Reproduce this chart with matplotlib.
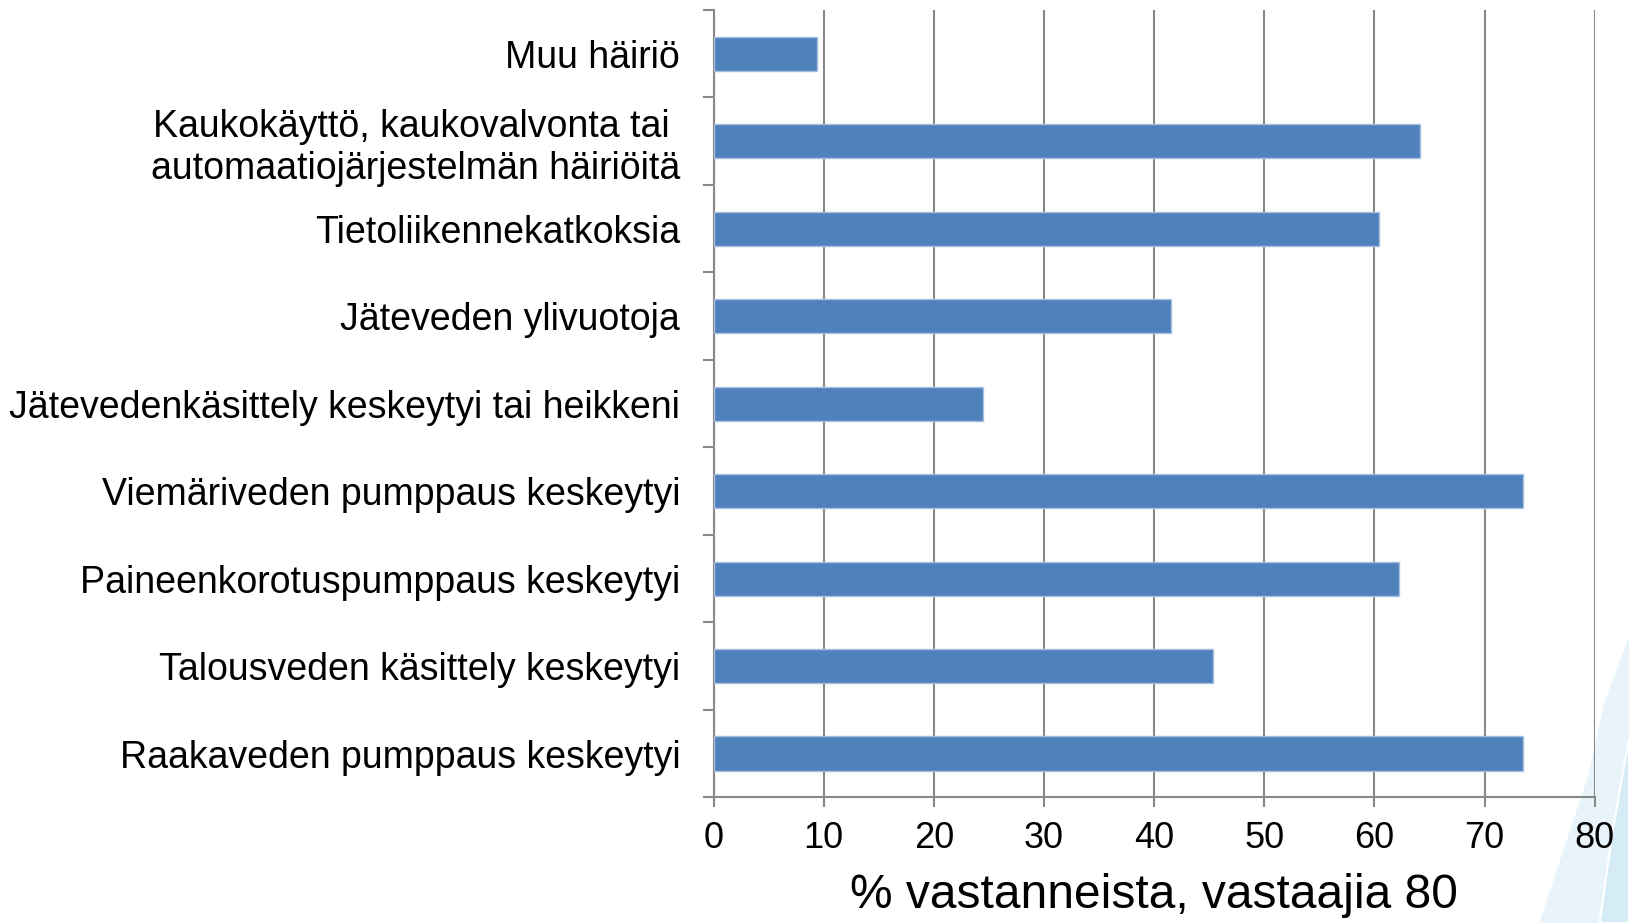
import matplotlib.pyplot as plt
from matplotlib.patches import Polygon
import numpy as np

plt.rcParams['font.family'] = ['Liberation Sans', 'DejaVu Sans']

# categories, top to bottom
categories = ['Muu häiriö',
              'Kaukokäyttö, kaukovalvonta tai \nautomaatiojärjestelmän häiriöitä',
              'Tietoliikennekatkoksia',
              'Jäteveden ylivuotoja',
              'Jätevedenkäsittely keskeytyi tai heikkeni',
              'Viemäriveden pumppaus keskeytyi',
              'Paineenkorotuspumppaus keskeytyi',
              'Talousveden käsittely keskeytyi',
              'Raakaveden pumppaus keskeytyi']
values = [9.4, 64.1, 60.4, 41.5, 24.5, 73.5, 62.2, 45.3, 73.5]
x_ticks = [0, 10, 20, 30, 40, 50, 60, 70, 80]

fig = plt.figure(figsize=(16.29, 9.23), dpi=100)

# vaalea sininen koriste oikeassa alakulmassa
deco1 = Polygon([(1.0, 0.31), (0.985, 0.24), (0.975, 0.16), (0.958, 0.07), (0.945, 0.0), (1.0, 0.0)],
                closed=True, transform=fig.transFigure, facecolor='#e8f4fa', edgecolor='none', zorder=-2)
deco2 = Polygon([(1.0, 0.2), (0.99, 0.1), (0.982, 0.0), (1.0, 0.0)],
                closed=True, transform=fig.transFigure, facecolor='#d5ebf5', edgecolor='white', lw=1.5, zorder=-1)
fig.patches.extend([deco1, deco2])

ax = fig.add_axes([0.438, 0.1362, 0.541, 0.853])
ax.patch.set_alpha(0)

y = np.arange(len(categories))
ax.barh(y, values, height=0.39, color='#4f81bd', edgecolor='#a7c0e0', linewidth=1, zorder=3)

ax.set_xlim(0, 80)
ax.set_ylim(len(categories) - 0.5, -0.5)
ax.set_xticks(x_ticks)
ax.set_xticklabels([str(t) for t in x_ticks])
ax.set_yticks(y)
ax.set_yticklabels(categories)
ax.set_yticks(np.arange(len(categories) + 1) - 0.5, minor=True)

ax.grid(axis='x', color='#888888', linewidth=1.5, zorder=0)
for s in ['top', 'right']:
    ax.spines[s].set_visible(False)
for s in ['left', 'bottom']:
    ax.spines[s].set_color('#888888')
    ax.spines[s].set_linewidth(1.5)

ax.tick_params(axis='y', which='major', length=0, pad=24, labelsize=27)
ax.tick_params(axis='y', which='minor', length=8, width=1.5, color='#888888')
ax.tick_params(axis='x', length=7, width=1.5, color='#888888', pad=10, labelsize=26)
for lab in ax.get_yticklabels():
    lab.set_multialignment('right')

ax.set_xlabel('% vastanneista, vastaajia 80', fontsize=34.5, labelpad=12)

fig.savefig('out.png', dpi=100)
